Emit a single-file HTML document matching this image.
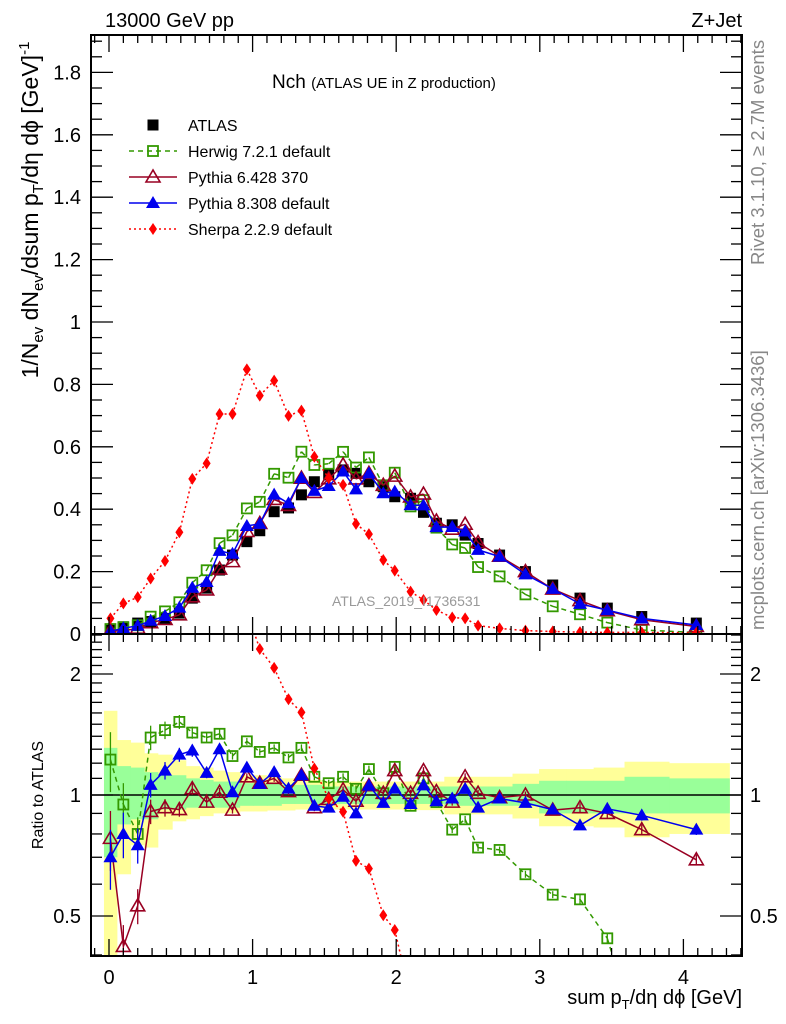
<!DOCTYPE html>
<html><head><meta charset="utf-8">
<style>
html,body{margin:0;padding:0;background:#fff;width:786px;height:1024px;overflow:hidden;}
svg{display:block;font-family:"Liberation Sans",Arial,sans-serif;}
</style></head>
<body>
<svg id="c" width="786" height="1024" viewBox="0 0 786 1024" xmlns="http://www.w3.org/2000/svg">
<defs>
<clipPath id="cm"><rect x="91" y="35" width="651" height="599"/></clipPath>
<clipPath id="cr"><rect x="91" y="634" width="651" height="322"/></clipPath>
</defs>
<g id="bands" clip-path="url(#cr)"></g>
<g id="ratio" clip-path="url(#cr)"></g>
<g id="main" clip-path="url(#cm)"></g>
<g id="axes"></g>
<text x="105" y="27" font-size="20">13000 GeV pp</text>
<text x="742" y="27" font-size="20" text-anchor="end">Z+Jet</text>
<text x="272" y="88" font-size="19">Nch <tspan font-size="15">(ATLAS UE in Z production)</tspan></text>
<text x="332" y="606" font-size="14" fill="#999">ATLAS_2019_I1736531</text>
<text transform="translate(764,265) rotate(-90)" font-size="18.5" fill="#888">Rivet 3.1.10, ≥ 2.7M events</text>
<text transform="translate(764,630) rotate(-90)" font-size="18.5" fill="#888">mcplots.cern.ch [arXiv:1306.3436]</text>
<text transform="translate(38,210) rotate(-90)" font-size="23" text-anchor="middle">1/N<tspan font-size="15" dy="5">ev</tspan><tspan dy="-5"> dN</tspan><tspan font-size="15" dy="5">ev</tspan><tspan dy="-5">/dsum p</tspan><tspan font-size="15" dy="5">T</tspan><tspan dy="-5">/dη dϕ  [GeV]</tspan><tspan font-size="15" dy="-9">-1</tspan></text>
<text transform="translate(43,795) rotate(-90)" font-size="16" text-anchor="middle">Ratio to ATLAS</text>
<text x="742" y="1004" font-size="20" text-anchor="end">sum p<tspan font-size="13" dy="5">T</tspan><tspan dy="-5">/dη dϕ [GeV]</tspan></text>
<g id="legend"></g>
</svg>
<script>
const xs = [0.01,0.10,0.20,0.29,0.39,0.49,0.58,0.68,0.77,0.86,0.96,1.05,1.15,1.25,1.34,1.43,1.53,1.63,1.72,1.81,1.91,1.99,2.10,2.19,2.28,2.39,2.48,2.57,2.72,2.90,3.09,3.28,3.47,3.71,4.09];
const atlas = [0.013,0.023,0.035,0.04,0.05,0.067,0.115,0.147,0.205,0.253,0.296,0.331,0.392,0.404,0.446,0.488,0.51,0.526,0.515,0.488,0.472,0.44,0.435,0.39,0.355,0.35,0.317,0.29,0.253,0.2,0.157,0.115,0.083,0.056,0.035];
const herwigRatio = [1.225,0.947,0.80,1.39,1.45,1.52,1.43,1.39,1.42,1.25,1.36,1.28,1.31,1.24,1.31,1.11,1.07,1.11,1.036,1.16,1.01,1.175,0.94,1.10,0.96,0.82,0.87,0.74,0.73,0.635,0.565,0.55,0.44,0.23,0.14];
const pythia6Ratio = [0.78,0.42,0.53,0.91,0.93,0.92,1.037,0.96,1.016,0.917,1.11,1.07,1.10,1.02,1.12,0.93,0.975,1.03,0.965,1.055,1.01,1.15,1.01,1.15,1.02,0.96,1.11,1.01,0.985,1.0,0.917,0.93,0.90,0.82,0.69];
const pythia8Ratio = [0.70,0.80,0.75,1.06,1.15,1.26,1.29,1.135,1.30,1.016,1.17,1.066,1.14,1.037,1.12,0.94,0.93,0.99,0.90,1.055,0.956,1.037,0.95,1.057,0.965,0.98,1.036,0.93,0.98,0.956,0.92,0.84,0.924,0.89,0.82];
const sherpa = [0.05,0.098,0.118,0.178,0.234,0.326,0.497,0.547,0.705,0.705,0.848,0.764,0.812,0.699,0.716,0.568,0.499,0.478,0.353,0.32,0.237,0.203,0.136,0.109,0.077,0.053,0.05,0.027,0.018,0.011,0.008,0.006,0.005,0.005,0.004];
const mcErr = [0.17,0.13,0.10,0.07,0.05,0.04,0.035,0.03,0.025,0.02,0.02,0.02,0.02,0.02,0.02,0.02,0.02,0.02,0.02,0.02,0.02,0.02,0.02,0.02,0.02,0.02,0.02,0.02,0.02,0.02,0.02,0.025,0.025,0.03,0.03];
const yellowUp = [1.62,1.37,1.35,1.27,1.26,1.22,1.18,1.17,1.15,1.14,1.12,1.12,1.11,1.10,1.10,1.09,1.08,1.08,1.08,1.08,1.08,1.08,1.08,1.08,1.08,1.11,1.11,1.11,1.11,1.13,1.16,1.16,1.17,1.21,1.20];
const yellowDn = [0.3,0.635,0.75,0.74,0.82,0.86,0.87,0.886,0.90,0.90,0.91,0.91,0.915,0.915,0.92,0.92,0.92,0.92,0.92,0.92,0.92,0.92,0.917,0.917,0.917,0.895,0.895,0.895,0.895,0.874,0.836,0.836,0.83,0.785,0.80];
const greenUp = [1.31,1.18,1.17,1.14,1.12,1.12,1.10,1.09,1.08,1.08,1.07,1.07,1.07,1.06,1.06,1.06,1.05,1.05,1.05,1.05,1.05,1.05,1.05,1.05,1.05,1.05,1.05,1.05,1.05,1.066,1.085,1.085,1.085,1.11,1.10];
const greenDn = [0.70,0.845,0.87,0.87,0.92,0.92,0.93,0.93,0.93,0.93,0.94,0.94,0.94,0.95,0.95,0.95,0.95,0.95,0.95,0.95,0.95,0.95,0.95,0.95,0.95,0.94,0.94,0.94,0.94,0.94,0.90,0.90,0.90,0.90,0.90];
const mainTicks = [0,0.2,0.4,0.6,0.8,1,1.2,1.4,1.6,1.8];
const mainTickLabels = ["0","0.2","0.4","0.6","0.8","1","1.2","1.4","1.6","1.8"];
const ratioTicks = [0.5,1,2];
const ratioTickLabels = ["0.5","1","2"];
const xTicks = [0,1,2,3,4];
const xTickLabels = ["0","1","2","3","4"];

const NS="http://www.w3.org/2000/svg";
const X=v=>109+143.6*v, YM=v=>634-312*v, YR=r=>795-121*Math.log2(r);
function el(tag,attrs,parent){const e=document.createElementNS(NS,tag);for(const k in attrs)e.setAttribute(k,attrs[k]);parent.appendChild(e);return e;}
const gB=document.getElementById('bands'),gR=document.getElementById('ratio'),gM=document.getElementById('main'),gA=document.getElementById('axes'),gL=document.getElementById('legend');

const edges=[];edges.push(xs[0]-0.045);
for(let i=0;i<xs.length-1;i++)edges.push((xs[i]+xs[i+1])/2);
edges.push(4.32);
const RT=634,RB=956;
const cl=y=>Math.max(RT-2,Math.min(RB+2,y));
function band(up,dn,col,name){
  for(let i=0;i<xs.length;i++){
    const y1=cl(YR(up[i])),y2=cl(YR(dn[i]));
    const r=el('rect',{x:X(edges[i]),y:y1,width:X(edges[i+1])-X(edges[i])+0.5,height:y2-y1,fill:col},gB);
    
    
  }
}
band(yellowUp,yellowDn,'#ffff99','band-total-unc');
band(greenUp,greenDn,'#99ff99','band-stat-unc');
const ul=el('line',{x1:91,x2:742,y1:YR(1),y2:YR(1),stroke:'#000','stroke-width':1.5},gR);



function marker(type,cx,cy,col,parent,name){
  let m;
  if(type==='sqFill')m=el('rect',{x:cx-5.5,y:cy-5.5,width:11,height:11,fill:col},parent);
  else if(type==='sqOpen')m=el('rect',{x:cx-5,y:cy-5,width:10,height:10,fill:'none',stroke:col,'stroke-width':1.8},parent);
  else if(type==='triOpen')m=el('polygon',{points:`${cx},${cy-7} ${cx-7},${cy+5} ${cx+7},${cy+5}`,fill:'none',stroke:col,'stroke-width':1.6},parent);
  else if(type==='triFill')m=el('polygon',{points:`${cx},${cy-7} ${cx-7},${cy+5} ${cx+7},${cy+5}`,fill:col},parent);
  else m=el('polygon',{points:`${cx},${cy-6} ${cx-4},${cy} ${cx},${cy+6} ${cx+4},${cy}`,fill:col},parent);
  
  
}
// clip a segment to y range [lo,hi]; returns null if fully outside
function clipSeg(x1,y1,x2,y2,lo,hi){
  if((y1<lo&&y2<lo)||(y1>hi&&y2>hi))return null;
  const f=(ya,xa,yb,xb,yt)=>xa+(xb-xa)*(yt-ya)/(yb-ya);
  if(y1<lo){x1=f(y1,x1,y2,x2,lo);y1=lo;} else if(y1>hi){x1=f(y1,x1,y2,x2,hi);y1=hi;}
  if(y2<lo){x2=f(y2,x2,y1,x1,lo);y2=lo;} else if(y2>hi){x2=f(y2,x2,y1,x1,hi);y2=hi;}
  return [x1,y1,x2,y2];
}
function series(vals,yf,col,dash,mk,parent,name,err,noLine,lo,hi){
  const px=vals.map((v,i)=>[X(xs[i]),yf(v)]);
  if(!noLine){
    let d='';
    for(let i=0;i<px.length-1;i++){
      const s=clipSeg(px[i][0],px[i][1],px[i+1][0],px[i+1][1],lo,hi);
      if(s)d+=`M${s[0].toFixed(1)},${s[1].toFixed(1)}L${s[2].toFixed(1)},${s[3].toFixed(1)}`;
    }
    const p=el('path',{d:d,fill:'none',stroke:col,'stroke-width':1.5,'stroke-dasharray':dash},parent);
    
    
  }
  vals.forEach((v,i)=>{
    const y=px[i][1];
    if(y<lo-8||y>hi+8)return;
    if(err){const e=el('line',{x1:px[i][0],x2:px[i][0],y1:Math.max(lo,yf(v*(1+err[i]))),y2:Math.min(hi,yf(v*(1-err[i]))),stroke:col,'stroke-width':1.3},parent);
      
      }
    marker(mk,px[i][0],y,col,parent,name+'-point');
  });
}
series(herwigRatio,YR,'#339900','5,4','sqOpen',gR,'herwig-ratio',mcErr,false,RT-2,RB+2);
series(pythia6Ratio,YR,'#990022','none','triOpen',gR,'pythia6-ratio',mcErr,false,RT-2,RB+2);
series(pythia8Ratio,YR,'#0000ee','none','triFill',gR,'pythia8-ratio',mcErr,false,RT-2,RB+2);
series(sherpa.map((v,i)=>v/atlas[i]),YR,'#ff0000','2,3','dia',gR,'sherpa-ratio',null,false,RT-2,RB+2);
series(atlas,YM,'#000','none','sqFill',gM,'atlas-data',null,true,30,640);
series(herwigRatio.map((r,i)=>r*atlas[i]),YM,'#339900','5,4','sqOpen',gM,'herwig',null,false,30,640);
series(pythia6Ratio.map((r,i)=>r*atlas[i]),YM,'#990022','none','triOpen',gM,'pythia6',null,false,30,640);
series(pythia8Ratio.map((r,i)=>r*atlas[i]),YM,'#0000ee','none','triFill',gM,'pythia8',null,false,30,640);
series(sherpa,YM,'#ff0000','2,3','dia',gM,'sherpa',null,false,30,640);

[[35,634],[634,956]].forEach(([t,b],k)=>{
  const f=el('rect',{x:91,y:t,width:651,height:b-t,fill:'none',stroke:'#000','stroke-width':2},gA);
  
  
});
for(let i=-1;i<=44;i++){
  const v=i/10,x=X(v);if(x<91||x>742)continue;const maj=i%10===0;
  [[35,1],[634,-1],[634,1],[956,-1]].forEach(([y,d])=>{
    const t=el('line',{x1:x,x2:x,y1:y,y2:y+d*(maj?17:8),stroke:'#000','stroke-width':1.3},gA);
    
    
  });
}
xTicks.forEach((v,i)=>{const t=el('text',{x:X(v),y:984,'font-size':20,'text-anchor':'middle'},gA);t.textContent=xTickLabels[i];
  
  });
for(let i=0;i<=38;i++){
  const v=i*0.05,y=YM(v);if(y<35)continue;const maj=i%4===0;
  [[91,1],[742,-1]].forEach(([x,d])=>{
    const t=el('line',{x1:x,x2:x+d*(maj?22:11),y1:y,y2:y,stroke:'#000','stroke-width':1.3},gA);
    
    
  });
}
mainTicks.forEach((v,i)=>{const t=el('text',{x:81,y:YM(v)+7,'font-size':20,'text-anchor':'end'},gA);t.textContent=mainTickLabels[i];
  
  });
for(let i=3;i<=25;i++){
  const r=i/10,y=YR(r);if(y<634||y>956)continue;const maj=(i===5||i===10||i===20);
  [[91,1],[742,-1]].forEach(([x,d])=>{
    const t=el('line',{x1:x,x2:x+d*(maj?22:11),y1:y,y2:y,stroke:'#000','stroke-width':1.3},gA);
    
    
  });
}
ratioTicks.forEach((r,i)=>{[[81,'end'],[750,'start']].forEach(([x,a])=>{
  const t=el('text',{x:x,y:YR(r)+7,'font-size':20,'text-anchor':a},gA);t.textContent=ratioTickLabels[i];
  
  });});
const leg=[['ATLAS','#000','none','sqFill',false],['Herwig 7.2.1 default','#339900','5,4','sqOpen',true],['Pythia 6.428 370','#990022','none','triOpen',true],['Pythia 8.308 default','#0000ee','none','triFill',true],['Sherpa 2.2.9 default','#ff0000','2,3','dia',true]];
leg.forEach(([lab,col,dash,mk,ln],i)=>{
  const y=125+i*26;
  if(ln){const l=el('line',{x1:129,x2:177,y1:y,y2:y,stroke:col,'stroke-width':1.5,'stroke-dasharray':dash},gL);
    
    }
  marker(mk,153,y,col,gL,'legend-marker');
  const t=el('text',{x:188,y:y+6,'font-size':16},gL);t.textContent=lab;
  
  
});
</script>
</body></html>
